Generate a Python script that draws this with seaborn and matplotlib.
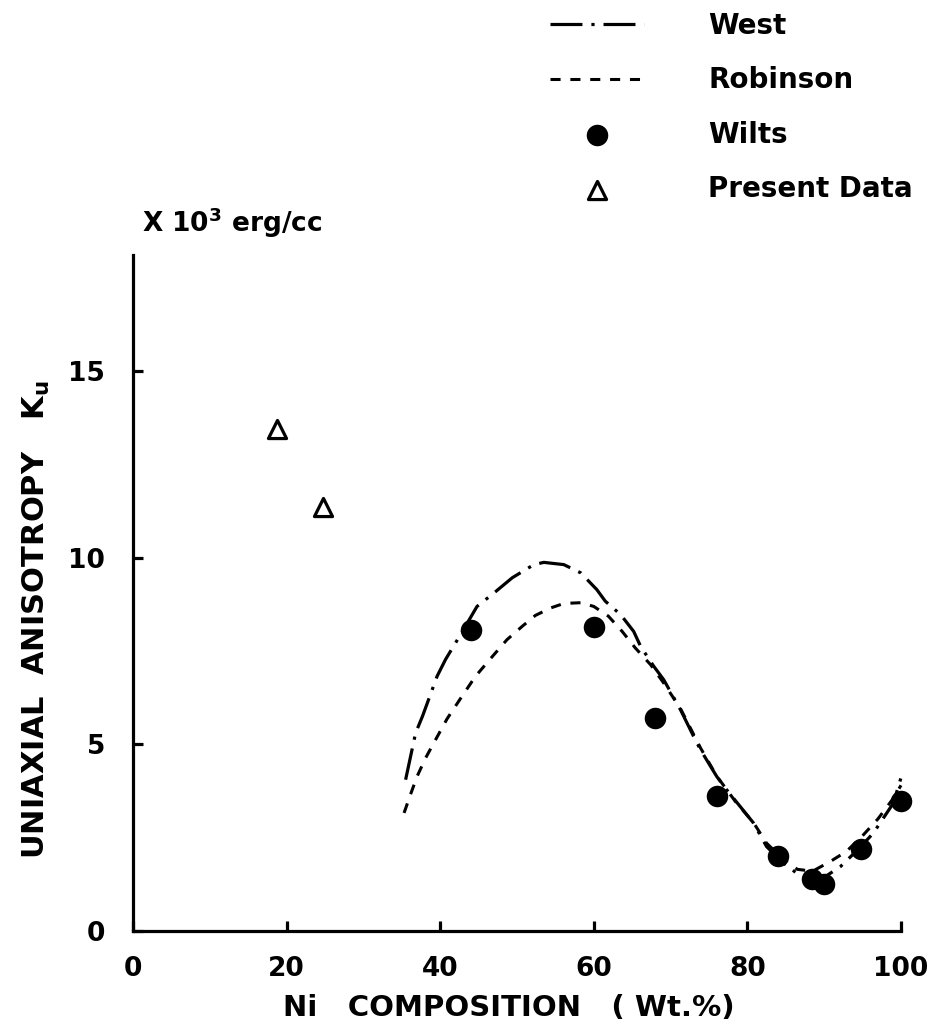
import numpy as np
import pandas as pd
import matplotlib
matplotlib.use("Agg")
import matplotlib.pyplot as plt
import seaborn as sns

# ---- data ----
west_x = [35.5, 36.8, 37.7, 39.6, 40.7, 42.4, 44.8, 47.0, 49.4, 52.2, 53.5, 56.1,
          58.3, 60.4, 61.5, 63.5, 65.2, 66.1, 67.8, 69.1, 71.3, 73.0, 73.9, 76.0,
          77.3, 80.8, 82.5, 84.5, 86.4, 88.0, 89.5, 92.1, 94.5, 96.4, 99.0, 100.0]
west_y = [4.05, 5.3, 5.75, 6.82, 7.27, 7.85, 8.69, 9.05, 9.46, 9.81, 9.87, 9.81,
          9.59, 9.14, 8.83, 8.47, 8.02, 7.62, 7.09, 6.73, 5.92, 5.21, 4.85, 4.14,
          3.78, 2.89, 2.26, 1.85, 1.55, 1.42, 1.37, 1.72, 2.2, 2.62, 3.42, 4.1]

robinson_x = [35.3, 36.2, 37.0, 38.1, 39.4, 40.9, 42.7, 44.6, 46.8, 48.7, 50.7, 52.4,
              54.4, 56.1, 58.3, 60.0, 61.9, 63.7, 65.4, 67.4, 69.1, 71.3, 73.9, 76.0,
              78.5, 80.8, 82.5, 84.5, 86.5, 88.5, 90.8, 92.9, 95.0, 97.0, 99.0, 100.0]
robinson_y = [3.16, 3.69, 4.14, 4.63, 5.12, 5.68, 6.24, 6.82, 7.35, 7.8, 8.16, 8.45,
              8.65, 8.77, 8.79, 8.69, 8.43, 8.02, 7.58, 7.13, 6.64, 5.95, 4.9, 4.15,
              3.45, 2.9, 2.35, 1.95, 1.65, 1.6, 1.86, 2.13, 2.55, 3.0, 3.55, 3.9]

wilts_x = [44, 60, 68, 76, 84, 88.4, 90, 94.8, 100]
wilts_y = [8.05, 8.15, 5.7, 3.62, 2.0, 1.4, 1.25, 2.2, 3.47]

present_x = [18.7, 24.8]
present_y = [13.45, 11.35]

x_ticks = [0, 20, 40, 60, 80, 100]
y_ticks = [0, 5, 10, 15]

series_names = ["West", "Robinson", "Wilts", "Present Data"]

# ---- style ----
sns.set_style("ticks")
plt.rcParams['font.family'] = ['DejaVu Sans']
plt.rcParams['font.weight'] = 'bold'
plt.rcParams['axes.labelweight'] = 'bold'
plt.rcParams['mathtext.fontset'] = 'custom'
plt.rcParams['mathtext.rm'] = 'DejaVu Sans:bold'
plt.rcParams['mathtext.it'] = 'DejaVu Sans:bold'
for k in ['text.color', 'axes.labelcolor', 'xtick.color', 'ytick.color',
          'axes.edgecolor']:
    plt.rcParams[k] = 'black'

fig = plt.figure(figsize=(9.47, 10.33), dpi=100)
ax = fig.add_axes([0.1404, 0.0988, 0.8110, 0.6543])

west_df = pd.DataFrame({"x": west_x, "y": west_y})
rob_df = pd.DataFrame({"x": robinson_x, "y": robinson_y})
wilts_df = pd.DataFrame({"x": wilts_x, "y": wilts_y})
pres_df = pd.DataFrame({"x": present_x, "y": present_y})

sns.lineplot(data=west_df, x="x", y="y", sort=False, estimator=None, ax=ax,
             color="black", linewidth=2.3, linestyle=(0, (10, 2.8, 1, 2.8)),
             label=series_names[0], clip_on=False)
sns.lineplot(data=rob_df, x="x", y="y", sort=False, estimator=None, ax=ax,
             color="black", linewidth=2.2, linestyle=(0, (3.3, 3.2)),
             label=series_names[1], clip_on=False)
sns.scatterplot(data=wilts_df, x="x", y="y", ax=ax, color="black", marker="o",
                s=240, edgecolor="black", linewidth=0, label=series_names[2],
                clip_on=False, zorder=3)
sns.scatterplot(data=pres_df, x="x", y="y", ax=ax, marker="^", s=170,
                facecolor="white", edgecolor="black", linewidth=2.3,
                label=series_names[3], clip_on=False, zorder=3)

ax.set_xlim(0, 100)
ax.set_ylim(0, 18.1)
ax.set_xticks(x_ticks)
ax.set_yticks(y_ticks)
ax.set_xticklabels([str(v) for v in x_ticks])
ax.set_yticklabels([str(v) for v in y_ticks])

sns.despine(ax=ax)
for s in ["left", "bottom"]:
    ax.spines[s].set_linewidth(2.3)
    ax.spines[s].set_color("black")
ax.tick_params(axis="both", direction="in", length=7, width=2.3, labelsize=19,
               colors="black")
ax.tick_params(axis="x", pad=18)
ax.tick_params(axis="y", pad=20)

ax.set_xlabel("Ni   COMPOSITION   ( Wt.%)", fontsize=21, fontweight="bold")
ax.set_ylabel("UNIAXIAL  ANISOTROPY   K$_\\mathregular{u}$", fontsize=22,
              fontweight="bold")
ax.yaxis.set_label_coords(-0.105, 0.46)
ax.xaxis.set_label_coords(0.49, -0.093)

fig.text(142 / 947, 1 - 232 / 1033, "X 10$^\\mathregular{3}$ erg/cc",
         fontsize=19, va="baseline", ha="left")

handles, labels = ax.get_legend_handles_labels()
if ax.get_legend() is not None:
    ax.get_legend().remove()
fig.legend(handles, labels, loc="upper left",
           bbox_to_anchor=(550 / 947, 1 - 12 / 1033), frameon=False,
           fontsize=20, handlelength=3.4, handletextpad=2.3,
           labelspacing=0.95, borderpad=0, borderaxespad=0)

fig.savefig("out.png", dpi=100)
